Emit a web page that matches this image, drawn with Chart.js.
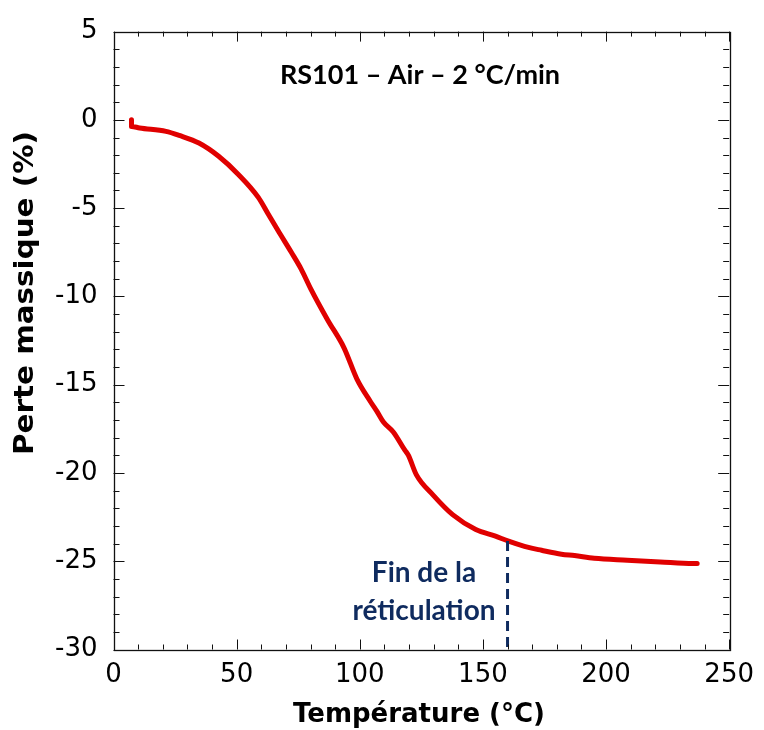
<!DOCTYPE html>
<html><head><meta charset="utf-8">
<script src="https://cdn.jsdelivr.net/npm/chart.js@4/dist/chart.umd.min.js"></script>
<style>html,body{margin:0;padding:0;background:#fff}#wrap{width:764px;height:730px}</style>
</head><body><div id="wrap"><canvas id="c" width="764" height="730"></canvas></div>
<script>
const temperature = [7.3, 7.3, 10.6, 21.3, 26.7, 34.7, 42.7, 50.7, 58.8, 62.8, 66.8, 72.2, 76.2, 80.2, 86.9, 93.6, 98.9, 104.3, 106.9, 109.6, 113.6, 118.3, 119.7, 123.0, 129.7, 137.7, 147.1, 155.1, 160.4, 168.5, 173.8, 181.9, 187.2, 195.2, 208.6, 222.0, 235.3, 237.0];
const perteMassique = [0.0, -0.37, -0.46, -0.65, -0.88, -1.31, -2.06, -3.09, -4.39, -5.33, -6.27, -7.5, -8.45, -9.6, -11.32, -12.91, -14.7, -15.95, -16.5, -17.12, -17.68, -18.71, -18.99, -20.11, -21.24, -22.36, -23.2, -23.58, -23.86, -24.22, -24.38, -24.6, -24.68, -24.83, -24.94, -25.04, -25.13, -25.13];
const finReticulationT = 160;
const finReticulationY = [-23.86, -30];
const xTickValues = [0, 50, 100, 150, 200, 250];
const yTickValues = [5, 0, -5, -10, -15, -20, -25, -30];
const chartTitle = 'RS101 \u2013 Air \u2013 2 \u00B0C/min';
const annotationLines = ['Fin de la', 'réticulation'];
const xTitle = 'Température (°C)';
const yTitle = 'Perte massique (%)';

const mainData = temperature.map((t, i) => ({x: t, y: perteMassique[i]}));
const dashData = finReticulationY.map(v => ({x: finReticulationT, y: v}));

const decor = {
  id: 'decor',
  afterDraw(chart) {
    const {ctx, chartArea: a, scales: {x, y}} = chart;
    ctx.save();
    ctx.strokeStyle = '#111';
    ctx.lineWidth = 1.3;
    ctx.strokeRect(Math.round(a.left) + 0.5, Math.round(a.top) + 0.5, Math.round(a.right - a.left), Math.round(a.bottom - a.top));
    ctx.lineWidth = 1;
    ctx.beginPath();
    x.ticks.forEach(t => {
      const px = Math.round(x.getPixelForValue(t.value)) + 0.5;
      const len = (t.value % 50 === 0) ? 10 : 5;
      ctx.moveTo(px, a.bottom); ctx.lineTo(px, a.bottom - len);
      ctx.moveTo(px, a.top); ctx.lineTo(px, a.top + len);
    });
    y.ticks.forEach(t => {
      const py = Math.round(y.getPixelForValue(t.value)) + 0.5;
      const len = (t.value % 5 === 0) ? 11 : 6;
      ctx.moveTo(a.left, py); ctx.lineTo(a.left + len, py);
      ctx.moveTo(a.right, py); ctx.lineTo(a.right - len, py);
    });
    ctx.stroke();

    // chart title
    ctx.fillStyle = '#000';
    ctx.font = 'bold 27px Lato';
    ctx.textAlign = 'center';
    ctx.textBaseline = 'alphabetic';
    ctx.fillText(chartTitle, 420, 83.5);

    // annotation
    ctx.fillStyle = '#0f2b5f';
    ctx.font = 'bold 28px Lato';
    ctx.fillText(annotationLines[0], 424, 582);
    ctx.fillText(annotationLines[1], 424, 620);

    // axis titles
    ctx.fillStyle = '#000';
    ctx.font = 'bold 26px "DejaVu Sans", sans-serif';
    ctx.textAlign = 'left';
    ctx.fillText(xTitle, 293, 722);
    ctx.translate(33, 455);
    ctx.rotate(-Math.PI / 2);
    ctx.scale(1.13, 1);
    ctx.fillText(yTitle, 0, 0);
    ctx.restore();
  }
};

new Chart(document.getElementById('c'), {
  type: 'scatter',
  data: {
    datasets: [
      {data: dashData, showLine: true, borderColor: '#0f2b5f', borderWidth: 3, borderDash: [10, 6], pointRadius: 0, fill: false},
      {data: mainData, showLine: true, borderColor: '#e00000', borderWidth: 5, pointRadius: 0, fill: false, cubicInterpolationMode: 'monotone', borderCapStyle: 'round', borderJoinStyle: 'round'}
    ]
  },
  options: {
    responsive: false,
    animation: false,
    events: [],
    layout: {padding: {left: 0, top: 26, right: 27.5, bottom: 0}},
    plugins: {legend: {display: false}, tooltip: {enabled: false}, title: {display: false}},
    scales: {
      x: {
        type: 'linear', min: 0, max: 250,
        grid: {display: false, drawTicks: false},
        border: {display: false},
        afterFit(s) { s.height = 80.5; },
        ticks: {
          stepSize: 10, autoSkip: false, maxRotation: 0, padding: 10, color: '#000',
          font: {family: '"DejaVu Sans", sans-serif', size: 26},
          callback: v => xTickValues.includes(v) ? String(v) : ''
        }
      },
      y: {
        type: 'linear', min: -30, max: 5,
        grid: {display: false, drawTicks: false},
        border: {display: false},
        afterFit(s) { s.width = 113.5; },
        ticks: {
          stepSize: 1, autoSkip: false, padding: 16, color: '#000',
          font: {family: '"DejaVu Sans", sans-serif', size: 26},
          callback: v => yTickValues.includes(v) ? String(v) : ''
        }
      }
    }
  },
  plugins: [decor]
});
</script></body></html>
